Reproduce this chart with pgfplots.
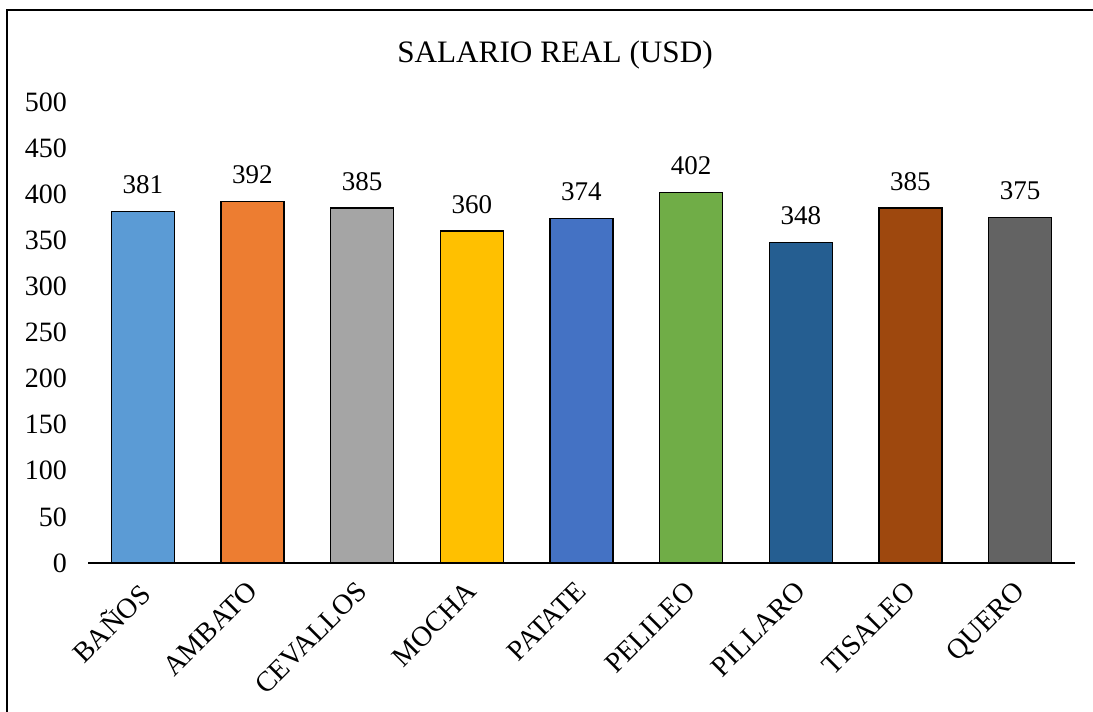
\documentclass[border=0pt]{standalone}
\usepackage{pgfplots}
\pgfplotsset{compat=1.18}
\usepackage{fontspec}
\setmainfont{Liberation Serif}
\definecolor{c1}{HTML}{5B9BD5}
\definecolor{c2}{HTML}{ED7D31}
\definecolor{c3}{HTML}{A5A5A5}
\definecolor{c4}{HTML}{FFC000}
\definecolor{c5}{HTML}{4472C4}
\definecolor{c6}{HTML}{70AD47}
\definecolor{c7}{HTML}{255E91}
\definecolor{c8}{HTML}{9E480E}
\definecolor{c9}{HTML}{636363}
\begin{document}
\begin{tikzpicture}
\begin{axis}[
  at={(44pt,74.5pt)}, anchor=south west,
  scale only axis, width=493.5pt, height=230.5pt,
  xmin=-0.5, xmax=8.5, ymin=0, ymax=500,
  ytick={0,50,...,500},
  xtick={0,...,8},
  xticklabels={BAÑOS,AMBATO,CEVALLOS,MOCHA,PATATE,PELILEO,PILLARO,TISALEO,QUERO},
  axis x line*=bottom, axis y line*=left,
  y axis line style={draw=none},
  x axis line style={line width=0.8pt, -},
  major tick length=0pt,
  /pgf/number format/assume math mode=true,
  yticklabel style={font=\fontsize{14}{16}\selectfont, xshift=-7pt},
  xticklabel style={font=\fontsize{14.2}{16}\selectfont, xshift=-3.5pt, yshift=-3.5pt, rotate=45, anchor=north east},
  ybar, bar width=31.5pt, bar shift=0pt,
  every axis plot/.append style={draw=black, line width=0.6pt},
  nodes near coords,
  nodes near coords style={font=\fontsize{13.5}{15}\selectfont, text=black, inner sep=0pt, anchor=south, yshift=8.5pt},
  clip=false,
]
\addplot[fill=c1] coordinates {(0,381)};
\addplot[fill=c2] coordinates {(1,392)};
\addplot[fill=c3] coordinates {(2,385)};
\addplot[fill=c4] coordinates {(3,360)};
\addplot[fill=c5] coordinates {(4,374)};
\addplot[fill=c6] coordinates {(5,402)};
\addplot[fill=c7] coordinates {(6,348)};
\addplot[fill=c8] coordinates {(7,385)};
\addplot[fill=c9] coordinates {(8,375)};
\end{axis}
\node[font=\fontsize{15.6}{18}\selectfont] at (277.5pt,328.5pt) {SALARIO REAL (USD)};
\draw[line width=1pt] (3.5pt,0pt) -- (3.5pt,351pt) -- (546.5pt,351pt);
\pgfresetboundingbox
\path (0pt,0pt) rectangle (546.5pt,356pt);
\end{tikzpicture}
\end{document}
